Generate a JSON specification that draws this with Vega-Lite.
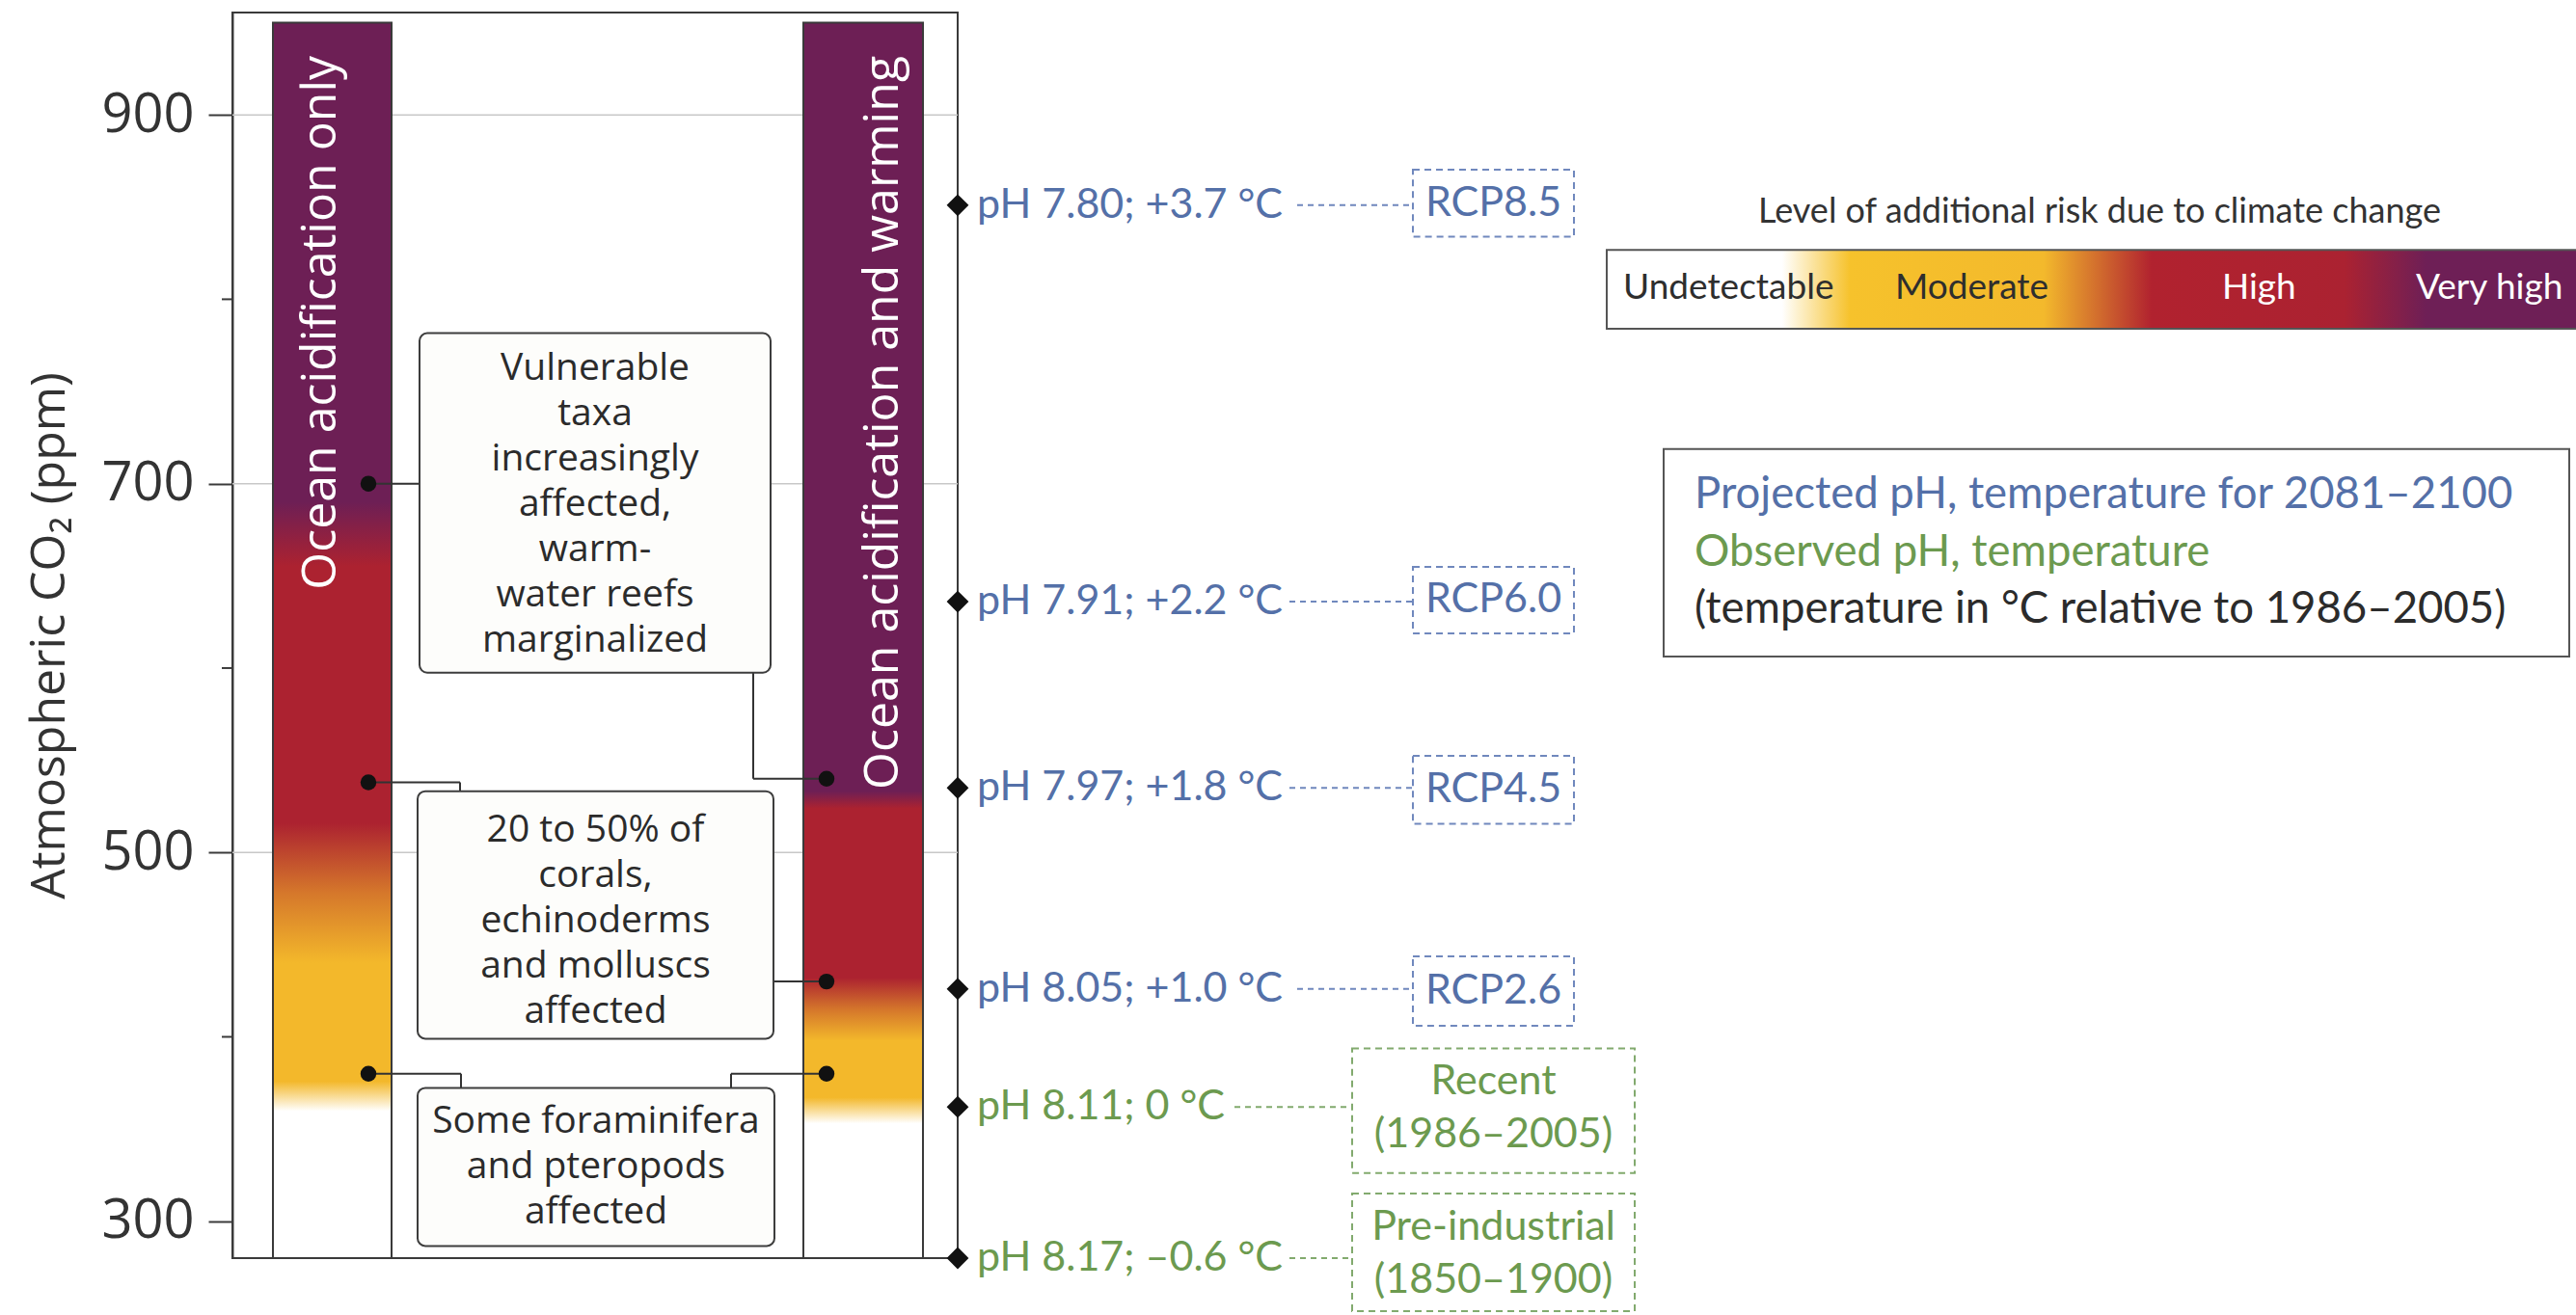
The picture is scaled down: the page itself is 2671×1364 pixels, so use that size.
{
  "$schema": "https://vega.github.io/schema/vega-lite/v6.json",
  "width": 752,
  "height": 1292,
  "autosize": {"type": "none"},
  "padding": {"left": 241, "top": 13, "right": 1678, "bottom": 59},
  "background": "white",
  "config": {"view": {"stroke": "#3a3a3a", "strokeWidth": 2}},
  "datasets": {
    "grid": [{"x": 241, "x2": 993, "y": 500}, {"x": 241, "x2": 993, "y": 700}, {"x": 241, "x2": 993, "y": 900}],
    "minor": [{"x": 230, "x2": 241, "y": 400}, {"x": 230, "x2": 241, "y": 600}, {"x": 230, "x2": 241, "y": 800}],
    "bars": [{"bar": "left", "x": 283, "x2": 406, "y": 950, "y2": 280}, {"bar": "right", "x": 833, "x2": 957, "y": 950, "y2": 280}],
    "barLabels": [{"x": 333, "y": 932, "text": "Ocean acidification only"}, {"x": 916, "y": 932, "text": "Ocean acidification and warming"}],
    "segments": [
      {"x": 382, "x2": 435, "y": 700, "y2": 700},
      {"x": 781, "x2": 781, "y": 597.5, "y2": 540},
      {"x": 781, "x2": 857, "y": 540, "y2": 540},
      {"x": 382, "x2": 477, "y": 538, "y2": 538},
      {"x": 477, "x2": 477, "y": 538, "y2": 533.2},
      {"x": 802, "x2": 857, "y": 430, "y2": 430},
      {"x": 382, "x2": 478, "y": 380, "y2": 380},
      {"x": 478, "x2": 478, "y": 380, "y2": 372.3},
      {"x": 857, "x2": 758, "y": 380, "y2": 380},
      {"x": 758, "x2": 758, "y": 380, "y2": 372.3}
    ],
    "dots": [{"x": 382, "y": 700}, {"x": 382, "y": 538}, {"x": 382, "y": 380}, {"x": 857, "y": 540}, {"x": 857, "y": 430}, {"x": 857, "y": 380}],
    "boxes": [{"x": 435, "x2": 799, "y": 781.6, "y2": 597.5}, {"x": 433, "x2": 802, "y": 533.2, "y2": 399}, {"x": 433, "x2": 803, "y": 372.3, "y2": 286.6}],
    "boxText": [
      {"x": 617, "y": 762.7, "text": "Vulnerable\ntaxa\nincreasingly\naffected,\nwarm-\nwater reefs\nmarginalized"},
      {"x": 617.5, "y": 512.1, "text": "20 to 50% of\ncorals,\nechinoderms\nand molluscs\naffected"},
      {"x": 618, "y": 354.2, "text": "Some foraminifera\nand pteropods\naffected"}
    ],
    "markers": [
      {"x": 993, "y": 851, "label": "pH 7.80; +3.7 °C", "grp": "projected"},
      {"x": 993, "y": 636, "label": "pH 7.91; +2.2 °C", "grp": "projected"},
      {"x": 993, "y": 535, "label": "pH 7.97; +1.8 °C", "grp": "projected"},
      {"x": 993, "y": 426, "label": "pH 8.05; +1.0 °C", "grp": "projected"},
      {"x": 993, "y": 362, "label": "pH 8.11; 0 °C", "grp": "observed"},
      {"x": 993, "y": 280, "label": "pH 8.17; –0.6 °C", "grp": "observed"}
    ],
    "dashLines": [
      {"x": 1345, "x2": 1465, "y": 851, "grp": "projected"},
      {"x": 1337, "x2": 1465, "y": 636, "grp": "projected"},
      {"x": 1337, "x2": 1465, "y": 535, "grp": "projected"},
      {"x": 1345, "x2": 1465, "y": 426, "grp": "projected"},
      {"x": 1280, "x2": 1402, "y": 362, "grp": "observed"},
      {"x": 1337, "x2": 1402, "y": 280, "grp": "observed"}
    ],
    "dashBoxes": [
      {"x": 1465, "x2": 1632, "y": 870.3, "y2": 833.9, "grp": "projected"},
      {"x": 1465, "x2": 1632, "y": 654.9, "y2": 618.8, "grp": "projected"},
      {"x": 1465, "x2": 1632, "y": 552.4, "y2": 515.5, "grp": "projected"},
      {"x": 1465, "x2": 1632, "y": 443.6, "y2": 406.0, "grp": "projected"},
      {"x": 1402, "x2": 1695, "y": 393.7, "y2": 326.2, "grp": "observed"},
      {"x": 1402, "x2": 1695, "y": 315.0, "y2": 251.2, "grp": "observed"}
    ],
    "dashText": [
      {"x": 1548.5, "y": 852, "text": "RCP8.5", "grp": "projected"},
      {"x": 1548.5, "y": 637, "text": "RCP6.0", "grp": "projected"},
      {"x": 1548.5, "y": 534, "text": "RCP4.5", "grp": "projected"},
      {"x": 1548.5, "y": 425, "text": "RCP2.6", "grp": "projected"},
      {"x": 1548.5, "y": 375.8, "text": "Recent\n(1986–2005)", "grp": "observed"},
      {"x": 1548.5, "y": 296.7, "text": "Pre-industrial\n(1850–1900)", "grp": "observed"}
    ],
    "legendHeader": [{"x": 2177, "y": 847.3, "text": "Level of additional risk due to climate change"}],
    "legendBar": [{"x": 1666, "x2": 2675, "y": 826.7, "y2": 784}],
    "legendLabels": [
      {"x": 1683, "y": 806, "text": "Undetectable", "onDark": false},
      {"x": 1965, "y": 806, "text": "Moderate", "onDark": false},
      {"x": 2304, "y": 806, "text": "High", "onDark": true},
      {"x": 2505, "y": 806, "text": "Very high", "onDark": true}
    ],
    "noteBox": [{"x": 1725, "x2": 2664, "y": 718.8, "y2": 606.3}],
    "noteText": [
      {"x": 1757, "y": 694.1, "text": "Projected pH, temperature for 2081–2100", "grp": "projected"},
      {"x": 1757, "y": 662.9, "text": "Observed pH, temperature", "grp": "observed"},
      {"x": 1757, "y": 631.9, "text": "(temperature in °C relative to 1986–2005)", "grp": "note"}
    ]
  },
  "encoding": {
    "x": {"field": "x", "type": "quantitative", "scale": {"domain": [241, 993], "nice": false, "zero": false}, "axis": null},
    "y": {
      "field": "y", "type": "quantitative",
      "scale": {"domain": [280, 955.5], "nice": false, "zero": false},
      "axis": {
        "values": [300, 500, 700, 900], "title": "Atmospheric CO₂ (ppm)", "grid": false,
        "tickSize": 25, "tickWidth": 2, "tickColor": "#3a3a3a", "domainColor": "#3a3a3a", "domainWidth": 2,
        "labelFont": "Open Sans", "labelFontSize": 56, "labelColor": "#333333", "labelPadding": 15,
        "titleFont": "Open Sans", "titleFontSize": 50, "titleFontWeight": "normal", "titleColor": "#333333", "titlePadding": 28
      }
    }
  },
  "layer": [
    {"data": {"name": "grid"}, "mark": {"type": "rule", "color": "#c8c8c8", "strokeWidth": 1.5}, "encoding": {"x2": {"field": "x2"}}},
    {"data": {"name": "minor"}, "mark": {"type": "rule", "color": "#3a3a3a", "strokeWidth": 2}, "encoding": {"x2": {"field": "x2"}}},
    {
      "data": {"name": "bars"}, "transform": [{"filter": "datum.bar === 'left'"}],
      "mark": {"type": "rect", "stroke": "#3a3a3a", "strokeWidth": 2, "fill": {"gradient": "linear", "x1": 0, "y1": 0, "x2": 0, "y2": 1, "stops": [
        {"offset": 0, "color": "#6d1f55"}, {"offset": 0.388, "color": "#6d1f55"}, {"offset": 0.44, "color": "#ac2230"},
        {"offset": 0.648, "color": "#ac2230"}, {"offset": 0.704, "color": "#d5772b"}, {"offset": 0.761, "color": "#f3b82b"},
        {"offset": 0.857, "color": "#f3b82b"}, {"offset": 0.881, "color": "#ffffff"}, {"offset": 1, "color": "#ffffff"}]}},
      "encoding": {"x2": {"field": "x2"}, "y2": {"field": "y2"}}
    },
    {
      "data": {"name": "bars"}, "transform": [{"filter": "datum.bar === 'right'"}],
      "mark": {"type": "rect", "stroke": "#3a3a3a", "strokeWidth": 2, "fill": {"gradient": "linear", "x1": 0, "y1": 0, "x2": 0, "y2": 1, "stops": [
        {"offset": 0, "color": "#6d1f55"}, {"offset": 0.622, "color": "#6d1f55"}, {"offset": 0.636, "color": "#ac2230"},
        {"offset": 0.773, "color": "#ac2230"}, {"offset": 0.799, "color": "#d5772b"}, {"offset": 0.824, "color": "#f3b82b"},
        {"offset": 0.87, "color": "#f3b82b"}, {"offset": 0.891, "color": "#ffffff"}, {"offset": 1, "color": "#ffffff"}]}},
      "encoding": {"x2": {"field": "x2"}, "y2": {"field": "y2"}}
    },
    {"data": {"name": "barLabels"}, "mark": {"type": "text", "angle": 270, "align": "right", "baseline": "middle", "font": "Open Sans", "fontSize": 50, "color": "#ffffff"}, "encoding": {"text": {"field": "text", "type": "nominal"}}},
    {"data": {"name": "segments"}, "mark": {"type": "rule", "color": "#333333", "strokeWidth": 2}, "encoding": {"x2": {"field": "x2"}, "y2": {"field": "y2"}}},
    {"data": {"name": "dots"}, "mark": {"type": "point", "filled": true, "size": 270, "color": "#111111", "opacity": 1}},
    {"data": {"name": "boxes"}, "mark": {"type": "rect", "cornerRadius": 8, "fill": "#fdfdfb", "stroke": "#3d3d3d", "strokeWidth": 2}, "encoding": {"x2": {"field": "x2"}, "y2": {"field": "y2"}}},
    {"data": {"name": "boxText"}, "mark": {"type": "text", "lineBreak": "\n", "lineHeight": 47, "font": "Open Sans", "fontSize": 39, "color": "#2b2b2b", "align": "center", "baseline": "middle"}, "encoding": {"text": {"field": "text", "type": "nominal"}}},
    {"data": {"name": "markers"}, "mark": {"type": "point", "shape": "diamond", "filled": true, "size": 520, "color": "#111111", "opacity": 1}},
    {
      "data": {"name": "markers"}, "mark": {"type": "text", "font": "Lato", "fontSize": 43, "align": "left", "baseline": "middle", "dx": 20},
      "encoding": {"text": {"field": "label", "type": "nominal"}, "color": {"field": "grp", "type": "nominal", "scale": {"domain": ["projected", "observed", "note"], "range": ["#5470a8", "#6c9a4f", "#2b2b2b"]}, "legend": null}}
    },
    {
      "data": {"name": "dashLines"}, "mark": {"type": "rule", "strokeWidth": 2, "strokeDash": [6, 5]},
      "encoding": {"x2": {"field": "x2"}, "stroke": {"field": "grp", "type": "nominal", "scale": {"domain": ["projected", "observed"], "range": ["#7088bd", "#82aa6e"]}, "legend": null}}
    },
    {
      "data": {"name": "dashBoxes"}, "mark": {"type": "rect", "fill": "#ffffff", "strokeWidth": 2, "strokeDash": [7, 5]},
      "encoding": {"x2": {"field": "x2"}, "y2": {"field": "y2"}, "stroke": {"field": "grp", "type": "nominal", "scale": {"domain": ["projected", "observed"], "range": ["#7088bd", "#82aa6e"]}, "legend": null}}
    },
    {
      "data": {"name": "dashText"}, "mark": {"type": "text", "lineBreak": "\n", "lineHeight": 55, "font": "Lato", "fontSize": 43, "align": "center", "baseline": "middle"},
      "encoding": {"text": {"field": "text", "type": "nominal"}, "color": {"field": "grp", "type": "nominal", "scale": {"domain": ["projected", "observed", "note"], "range": ["#5470a8", "#6c9a4f", "#2b2b2b"]}, "legend": null}}
    },
    {"data": {"name": "legendHeader"}, "mark": {"type": "text", "font": "Lato", "fontSize": 36, "color": "#333333", "align": "center", "baseline": "middle"}, "encoding": {"text": {"field": "text", "type": "nominal"}}},
    {
      "data": {"name": "legendBar"},
      "mark": {"type": "rect", "stroke": "#555555", "strokeWidth": 2, "fill": {"gradient": "linear", "x1": 0, "y1": 0, "x2": 1, "y2": 0, "stops": [
        {"offset": 0, "color": "#ffffff"}, {"offset": 0.18, "color": "#ffffff"}, {"offset": 0.25, "color": "#f6c22c"},
        {"offset": 0.449, "color": "#f3b92c"}, {"offset": 0.56, "color": "#b1222f"}, {"offset": 0.758, "color": "#ab2231"},
        {"offset": 0.842, "color": "#6e1f56"}, {"offset": 1, "color": "#6e1f56"}]}},
      "encoding": {"x2": {"field": "x2"}, "y2": {"field": "y2"}}
    },
    {
      "data": {"name": "legendLabels"}, "mark": {"type": "text", "font": "Lato", "fontSize": 37, "align": "left", "baseline": "middle"},
      "encoding": {"text": {"field": "text", "type": "nominal"}, "color": {"condition": {"test": "datum.onDark", "value": "#ffffff"}, "value": "#2e2e2e"}}
    },
    {"data": {"name": "noteBox"}, "mark": {"type": "rect", "fill": "#ffffff", "stroke": "#555555", "strokeWidth": 2}, "encoding": {"x2": {"field": "x2"}, "y2": {"field": "y2"}}},
    {
      "data": {"name": "noteText"}, "mark": {"type": "text", "font": "Lato", "fontSize": 45.5, "align": "left", "baseline": "middle"},
      "encoding": {"text": {"field": "text", "type": "nominal"}, "color": {"field": "grp", "type": "nominal", "scale": {"domain": ["projected", "observed", "note"], "range": ["#5470a8", "#6c9a4f", "#2b2b2b"]}, "legend": null}}
    }
  ]
}
